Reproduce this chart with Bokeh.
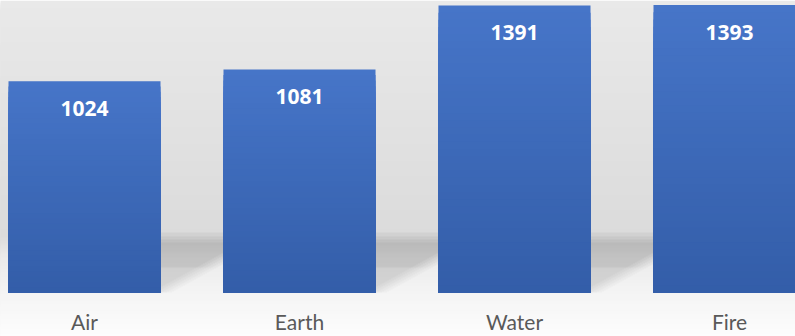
from bokeh.plotting import figure
from bokeh.embed import file_html
from bokeh.resources import INLINE
from bokeh.core.properties import value as pval

# ---- data ----
categories = ["Air", "Earth", "Water", "Fire"]
values = [1024, 1081, 1391, 1393]

W, H = 795, 336
# screen geometry helpers (styling only)
PX_PER_X = 215.0          # pixels per category step
X0_PX = 84.0              # pixel centre of first category
BASE_PX = 292.0           # pixel row of value 0
PX_PER_Y = 287.0 / 1391.0 # pixels per value unit
BAR_W = 152.0 / PX_PER_X

def xd(px):
    return (px - X0_PX) / PX_PER_X

def yd(py):
    return (BASE_PX - py) / PX_PER_Y

p = figure(width=W, height=H, output_backend="svg", toolbar_location=None,
           x_range=(xd(0), xd(W)), y_range=(yd(H), yd(0)),
           x_axis_type=None, y_axis_type=None, min_border=0,
           background_fill_color="#ffffff", border_fill_color="#ffffff")
p.grid.visible = False
p.outline_line_color = None

def lerp(c1, c2, t):
    return tuple(int(round(a + (b - a) * t)) for a, b in zip(c1, c2))

def hexc(c):
    return "#%02x%02x%02x" % c

# ---- background gradient (wall + floor) ----
stops = [(0, (233, 233, 233)), (236, (219, 219, 219)), (256, (234, 234, 234)),
         (292, (244, 244, 244)), (336, (253, 253, 253))]
def bg_color(py):
    for (p1, c1), (p2, c2) in zip(stops[:-1], stops[1:]):
        if p1 <= py <= p2:
            return lerp(c1, c2, (py - p1) / (p2 - p1))
    return stops[-1][1]

tops, bots, cols = [], [], []
for py in range(0, H, 2):
    tops.append(yd(py))
    bots.append(yd(H + 2))
    cols.append(hexc(bg_color(py + 1)))
p.quad(left=xd(-2), right=xd(W + 2), top=tops, bottom=bots, fill_color=cols, line_color=None)

# ---- cast shadows to the right of each bar ----
sl, sr, st, sb, sa = [], [], [], [], []
for i, v in enumerate(values):
    xr_px = X0_PX + i * PX_PER_X + 76
    for py in range(226, 292):
        w = min((292 - py) / 0.55, 130)
        if py < 244:
            a = 0.18 * ((py - 225) / 19) ** 1.6
        else:
            a = 0.18 - 0.07 * (py - 244) / 48
        for k in range(5):
            sl.append(xd(xr_px))
            sr.append(xd(xr_px + w - 10 + 5 * k))
            st.append(yd(py))
            sb.append(yd(py + 1))
            sa.append(a / 5)
p.quad(left=sl, right=sr, top=st, bottom=sb, fill_color="black", fill_alpha=sa, line_color=None)

# ---- bars with vertical gradient ----
top_col = (70, 117, 200)
bot_col = (51, 93, 168)
N = 40
bl, br, bt, bb, bc = [], [], [], [], []
for i, v in enumerate(values):
    for k in range(N):
        f = (N - k) / N
        bl.append(i - BAR_W / 2)
        br.append(i + BAR_W / 2)
        bt.append(v * f)
        bb.append(0)
        bc.append(hexc(lerp(bot_col, top_col, f)))
p.quad(left=bl, right=br, top=bt, bottom=bb, fill_color=bc, line_color=None)

# ---- value labels ----
xs = list(range(len(categories)))
p.text(x=xs, y=values, text=[str(v) for v in values], text_color="white",
       text_font=pval("Open Sans"), text_font_style="bold", text_font_size="21px",
       text_align="center", text_baseline="alphabetic", y_offset=27)

# ---- category labels ----
p.text(x=xs, y=[0] * len(xs), text=categories, text_color="#595959",
       text_font=pval("Lato"), text_font_size="21px",
       text_align="center", text_baseline="alphabetic", y_offset=29)

open("out.html", "w").write(file_html(p, INLINE))
